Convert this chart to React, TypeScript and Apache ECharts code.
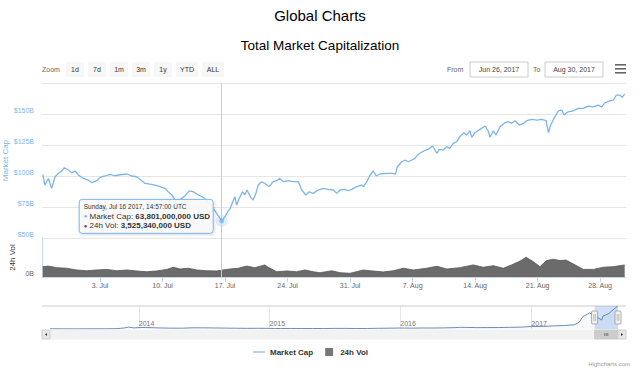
import React, { useEffect, useRef } from 'react';
import * as echarts from 'echarts';

const FONT = '"Liberation Sans", Arial, Helvetica, sans-serif';
const MONTHS = ['Jan', 'Feb', 'Mar', 'Apr', 'May', 'Jun', 'Jul', 'Aug', 'Sep', 'Oct', 'Nov', 'Dec'];
const DAYS = ['Sunday', 'Monday', 'Tuesday', 'Wednesday', 'Thursday', 'Friday', 'Saturday'];

// Market cap (billions USD), 2017, 'MM-DD HH[:mm]' UTC
const capTimes = [
  '06-26 14', '06-26 20', '06-27 05', '06-27 14', '06-27 23', '06-28 08', '06-28 17', '06-29 00', '06-29 11', '06-29 20',
  '06-30 05', '06-30 14', '07-01 03', '07-01 16', '07-02 02', '07-02 15', '07-03 00', '07-03 13', '07-04 03', '07-04 16',
  '07-05 06', '07-06 00', '07-06 13', '07-07 02', '07-07 16', '07-08 01', '07-08 14', '07-09 04', '07-09 17', '07-10 07',
  '07-10 15', '07-11 01', '07-11 10', '07-11 23', '07-12 12', '07-13 00', '07-13 11', '07-14 00', '07-14 14', '07-15 03',
  '07-15 16', '07-16 01', '07-16 14:57', '07-17 00', '07-17 10', '07-17 13', '07-18 02', '07-18 07', '07-18 16', '07-18 23',
  '07-19 05', '07-19 11', '07-19 21', '07-20 03', '07-20 11', '07-20 17', '07-21 02', '07-21 11', '07-21 23', '07-22 09',
  '07-22 19', '07-23 03', '07-23 12', '07-24 02', '07-24 15', '07-25 05', '07-25 14', '07-26 01', '07-26 10', '07-26 21',
  '07-27 10', '07-28 00', '07-28 13', '07-29 03', '07-29 12', '07-29 21', '07-30 10', '07-30 19', '07-31 04', '07-31 18',
  '08-01 07', '08-01 12', '08-01 21', '08-02 06', '08-02 14', '08-02 22', '08-03 08', '08-04 02', '08-04 16', '08-05 02',
  '08-05 07', '08-05 19', '08-06 04', '08-06 12', '08-06 22', '08-07 06', '08-07 15', '08-08 07', '08-08 18', '08-09 06',
  '08-09 12', '08-09 17', '08-10 00', '08-10 10', '08-10 20', '08-11 04', '08-11 13', '08-11 22', '08-12 07', '08-12 18',
  '08-13 01', '08-13 10', '08-13 15', '08-14 00', '08-14 13', '08-15 03', '08-15 12', '08-15 16', '08-16 01', '08-16 08',
  '08-16 19', '08-17 08', '08-17 17', '08-18 02', '08-18 11', '08-18 23', '08-19 10', '08-19 19', '08-20 08', '08-20 22',
  '08-21 11', '08-21 23', '08-22 05', '08-22 11', '08-22 20', '08-23 08', '08-23 17', '08-23 23', '08-24 10', '08-25 00',
  '08-25 13', '08-26 03', '08-26 16', '08-27 06', '08-27 19', '08-28 04', '08-28 13', '08-29 02', '08-29 11', '08-29 20',
  '08-30 05', '08-30 11', '08-30 18',
];
const capValues = [
  101.4, 92.7, 98, 90, 99.4, 102, 104, 106.7, 104.8, 102.6,
  104, 100.8, 98, 96.7, 94.6, 96.2, 98.9, 100, 101.4, 100.2,
  101, 101.6, 100, 99.4, 96.2, 94, 93.5, 92.7, 91.4, 90,
  87.3, 84.7, 80.6, 81, 83.9, 88, 87.3, 84.7, 82.8, 78.5,
  74, 70, 63.801, 67.2, 72.6, 73.1, 83.3, 76.6, 83.3, 87.3,
  84.7, 88.7, 82.8, 80.6, 86, 92.7, 95.4, 94, 91.4, 95.4,
  96.2, 98.1, 95.4, 96.2, 95.4, 95.4, 88.7, 84.7, 87.3, 86,
  88.7, 90, 89.2, 88.7, 86, 88.7, 89.2, 88.1, 89.2, 91.4,
  92.7, 91.4, 95.4, 100.8, 104.2, 100, 101.6, 102.1, 102.1, 101.6,
  107.5, 111.5, 112.9, 111.5, 112.9, 114.2, 117.5, 120.4, 121.5, 124.2,
  121, 118.3, 121.5, 121, 123.6, 122.3, 126.3, 127.6, 131.7, 134.9,
  133, 136.5, 131.2, 134.9, 137.6, 140.3, 135.7, 131.2, 136.5, 133,
  139.7, 143, 143.8, 142.5, 144.6, 141.1, 142.5, 144.6, 145.7, 145.1,
  145.7, 144.6, 134.9, 141.1, 146.5, 152.6, 153.2, 149.2, 151.8, 152.6,
  154.5, 154.5, 156.4, 155.8, 157.2, 155.8, 159, 160.6, 161.2, 165.3,
  165.3, 163.4, 166.1,
];

// 24h volume (billions USD)
const volTimes = [
  '06-26 14', '06-27 05', '06-28 03', '06-29 06', '06-30 09', '07-01 12', '07-02 15', '07-03 18', '07-04 21', '07-06 00',
  '07-07 02', '07-08 05', '07-09 08', '07-10 11', '07-11 05', '07-11 23', '07-12 21', '07-13 20', '07-14 23', '07-16 01',
  '07-16 14:57', '07-17 13', '07-18 12', '07-19 10', '07-20 08', '07-21 11', '07-21 20', '07-22 19', '07-23 22', '07-25 00',
  '07-25 23', '07-26 21', '07-27 15', '07-28 23', '07-29 21', '07-31 00', '08-01 12', '08-02 06', '08-03 17', '08-04 20',
  '08-05 23', '08-07 02', '08-08 14', '08-09 17', '08-10 20', '08-12 07', '08-13 19', '08-14 22', '08-16 01', '08-17 04',
  '08-18 02', '08-19 01', '08-19 17', '08-20 12', '08-21 06', '08-22 00', '08-22 18', '08-23 12', '08-24 04', '08-25 00',
  '08-26 03', '08-27 06', '08-28 09', '08-29 11', '08-30 18',
];
const volValues = [
  5.3, 5.6, 4.8, 4.5, 3.6, 3.2, 3.6, 3.9, 3.2, 3.6,
  3.1, 2.7, 3.1, 3.9, 5.0, 4.1, 4.5, 3.6, 3.2, 3.1,
  3.52534, 4.1, 4.5, 5.6, 4.8, 6.2, 5.0, 2.7, 3.1, 2.7,
  3.6, 2.7, 2.2, 3.2, 2.2, 1.9, 3.6, 3.2, 2.6, 3.2,
  4.5, 3.6, 4.5, 5.5, 4.1, 4.8, 6.2, 5.0, 5.8, 4.5,
  6.2, 8.2, 10.1, 7.9, 5.3, 8.4, 9.1, 8.4, 8.7, 6.7,
  3.9, 3.9, 5.0, 5.3, 6.2,
];

// Navigator: full history of market cap (billions USD)
const navTimes = [
  '2013-04-28', '2013-06-01', '2013-07-01', '2013-08-01', '2013-09-01', '2013-10-01', '2013-11-01', '2013-11-20', '2013-12-04', '2013-12-18',
  '2014-01-05', '2014-02-01', '2014-03-01', '2014-04-01', '2014-05-01', '2014-06-01', '2014-07-01', '2014-08-01', '2014-09-01', '2014-10-01',
  '2014-11-01', '2014-12-01', '2015-01-01', '2015-01-15', '2015-02-01', '2015-03-01', '2015-04-01', '2015-05-01', '2015-06-01', '2015-07-01',
  '2015-08-01', '2015-09-01', '2015-10-01', '2015-11-01', '2015-12-01', '2016-01-01', '2016-02-01', '2016-03-01', '2016-04-01', '2016-05-01',
  '2016-06-01', '2016-06-17', '2016-07-01', '2016-08-01', '2016-09-01', '2016-10-01', '2016-11-01', '2016-12-01', '2017-01-01', '2017-02-01',
  '2017-03-01', '2017-04-01', '2017-05-01', '2017-05-15', '2017-05-25', '2017-06-12', '2017-06-26', '2017-07-16', '2017-07-20', '2017-08-05',
  '2017-08-20', '2017-08-30',
];
const navValues = [
  1.6, 1.3, 1.0, 1.2, 1.6, 1.7, 2.6, 7.0, 14.0, 8.0,
  11.0, 10.0, 7.5, 6.0, 6.0, 8.5, 8.5, 7.5, 6.5, 5.5,
  4.8, 5.2, 4.5, 3.2, 3.5, 3.9, 3.7, 3.6, 3.6, 4.2,
  4.3, 3.6, 3.7, 5.3, 5.8, 7.0, 6.3, 7.4, 7.3, 8.0,
  10.0, 12.0, 11.5, 10.0, 10.3, 10.5, 12.0, 13.5, 17.7, 18.5,
  22.5, 25.0, 30.0, 50.0, 90.0, 115.0, 101.0, 64.0, 92.0, 112.0,
  145.0, 166.0,
];

const weekTicks = ['07-03', '07-10', '07-17', '07-24', '07-31', '08-07', '08-14', '08-21', '08-28'];
const yearTicks = ['2014-01-01', '2015-01-01', '2016-01-01', '2017-01-01'];
const capAxis = { min: 50, max: 175, interval: 25 };
const volAxis = { min: 0, max: 20, interval: 20 };
const rangeButtons = ['1d', '7d', '1m', '3m', '1y', 'YTD', 'ALL'];
const viewStart = '06-26 12';
const viewEnd = '08-30 21:30';
const navStart = '2013-04-28';
const hoverTime = '07-16 14:57';

function t17(s: string): number {
  const [md, hm = '00'] = s.split(' ');
  const [m, d] = md.split('-').map(Number);
  const [h, mi = 0] = hm.split(':').map(Number);
  return Date.UTC(2017, m - 1, d, h, mi);
}
function tIso(s: string): number {
  const [y, m, d] = s.split('-').map(Number);
  return Date.UTC(y, m - 1, d);
}
function fmtDate(ts: number): string {
  const d = new Date(ts);
  return `${MONTHS[d.getUTCMonth()]} ${d.getUTCDate()}, ${d.getUTCFullYear()}`;
}
const pad = (n: number) => (n < 10 ? '0' + n : '' + n);

const capData = capTimes.map((t, i) => [t17(t), capValues[i]]);
const volData = volTimes.map((t, i) => [t17(t), volValues[i]]);
const navData = navTimes.map((t, i) => [tIso(t), navValues[i]]);
const hoverTs = t17(hoverTime);
const hoverCap = capValues[capTimes.indexOf(hoverTime)];
const hoverVol = volValues[volTimes.indexOf(hoverTime)];
const startTs = t17(viewStart);
const endTs = t17(viewEnd);
const navStartTs = tIso(navStart);
const weekTs = weekTicks.map((s) => t17(s + ' 00'));
const yearTs = yearTicks.map(tIso);

function buildOption(): any {
  const crosshair = {
    symbol: 'none',
    silent: true,
    animation: false,
    label: { show: false },
    lineStyle: { color: '#cccccc', width: 1, type: 'solid' },
    data: [{ xAxis: hoverTs }],
  };
  return {
    animation: false,
    textStyle: { fontFamily: FONT },
    title: [
      { text: 'Global Charts', left: 'center', top: 3, textStyle: { fontSize: 15, fontWeight: 'normal', color: '#000', fontFamily: FONT } },
      { text: 'Total Market Capitalization', left: 'center', top: 33, textStyle: { fontSize: 13.5, fontWeight: 'normal', color: '#000', fontFamily: FONT } },
    ],
    legend: {
      left: 248,
      top: 343,
      itemWidth: 12,
      itemHeight: 8,
      itemGap: 12,
      textStyle: { fontSize: 8, fontWeight: 'bold', color: '#333', fontFamily: FONT },
      data: [
        { name: 'Market Cap', icon: 'path://M0,0 L20,0 L20,2 L0,2 Z' },
        { name: '24h Vol', icon: 'path://M0,0 L10,0 L10,10 L0,10 Z' },
      ],
    },
    grid: [
      { left: 42, right: 14, top: 83, height: 155, outerBoundsMode: 'none', containLabel: false },
      { left: 42, right: 14, top: 238, height: 39, outerBoundsMode: 'none', containLabel: false },
      { left: 50, right: 22, top: 306, height: 23, outerBoundsMode: 'none', containLabel: false },
    ],
    xAxis: [
      {
        type: 'value', gridIndex: 0, min: startTs, max: endTs,
        axisLine: { show: false }, axisTick: { show: false }, axisLabel: { show: false }, splitLine: { show: false },
      },
      {
        type: 'value', gridIndex: 1, min: startTs, max: endTs,
        axisLine: { show: true, lineStyle: { color: '#ccd6eb' } },
        axisTick: { show: true, customValues: weekTs, length: 5, lineStyle: { color: '#ccd6eb' } },
        axisLabel: {
          customValues: weekTs, color: '#666', fontSize: 7, margin: 5, fontFamily: FONT,
          formatter: (v: number) => { const d = new Date(v); return `${d.getUTCDate()}. ${MONTHS[d.getUTCMonth()]}`; },
        },
        splitLine: { show: false },
      },
      {
        type: 'value', gridIndex: 2, min: navStartTs, max: endTs,
        axisLine: { show: false },
        axisTick: { show: false, customValues: yearTs },
        axisLabel: {
          customValues: yearTs, inside: true, align: 'left', margin: 2, color: '#777', fontSize: 7, fontFamily: FONT,
          formatter: (v: number) => String(new Date(v).getUTCFullYear()),
        },
        splitLine: { show: true, lineStyle: { color: '#e6e6e6' } },
      },
    ],
    yAxis: [
      {
        type: 'value', gridIndex: 0, min: capAxis.min, max: capAxis.max, interval: capAxis.interval,
        name: 'Market Cap', nameLocation: 'middle', nameGap: 33, nameMoveOverlap: false,
        nameTextStyle: { color: '#7cb5ec', fontSize: 8, fontFamily: FONT },
        axisLine: { show: false }, axisTick: { show: false },
        axisLabel: {
          showMaxLabel: false, color: '#7cb5ec', fontSize: 7, margin: 8, verticalAlign: 'bottom', fontFamily: FONT,
          formatter: (v: number) => `$${v}B`,
        },
        splitLine: { lineStyle: { color: '#e6e6e6' } },
      },
      {
        type: 'value', gridIndex: 1, min: volAxis.min, max: volAxis.max, interval: volAxis.interval,
        name: '24h Vol', nameLocation: 'middle', nameGap: 26, nameMoveOverlap: false,
        nameTextStyle: { color: '#333', fontSize: 8, fontFamily: FONT },
        axisLine: { show: true, lineStyle: { color: '#ccd6eb' } }, axisTick: { show: false },
        axisLabel: {
          showMaxLabel: false, color: '#666', fontSize: 7, margin: 8, verticalAlign: 'bottom', fontFamily: FONT,
          formatter: (v: number) => `${v}B`,
        },
        splitLine: { show: false },
      },
      { type: 'value', gridIndex: 2, show: false, min: 0, max: 'dataMax' },
    ],
    series: [
      {
        name: 'Market Cap', type: 'line', xAxisIndex: 0, yAxisIndex: 0, data: capData,
        symbol: 'none', lineStyle: { color: '#7cb5ec', width: 1.3 }, itemStyle: { color: '#7cb5ec' },
        markLine: crosshair, z: 3,
      },
      {
        name: '24h Vol', type: 'line', xAxisIndex: 1, yAxisIndex: 1, data: volData,
        symbol: 'none', lineStyle: { color: '#555', width: 0.8 }, areaStyle: { color: '#6b6b6b', opacity: 1 },
        itemStyle: { color: '#777' }, markLine: crosshair,
      },
      {
        name: 'halo', type: 'scatter', xAxisIndex: 0, yAxisIndex: 0, data: [[hoverTs, hoverCap]],
        symbolSize: 12, itemStyle: { color: 'rgba(124,181,236,0.3)' }, silent: true, z: 4,
      },
      {
        name: 'point', type: 'scatter', xAxisIndex: 0, yAxisIndex: 0, data: [[hoverTs, hoverCap]],
        symbolSize: 5, itemStyle: { color: '#7cb5ec' }, silent: true, z: 5,
      },
      {
        name: 'navigator', type: 'line', xAxisIndex: 2, yAxisIndex: 2, data: navData,
        symbol: 'none', lineStyle: { color: '#4572a7', width: 0.8 }, areaStyle: { color: 'rgba(69,114,167,0.06)' },
        silent: true,
        markArea: {
          silent: true,
          itemStyle: { color: 'rgba(102,153,230,0.3)' },
          data: [[{ xAxis: startTs }, { xAxis: endTs }]],
        },
      },
    ],
  };
}

function buildGraphic(p: number[], navL: number, navR: number, selL: number, selR: number): any[] {
  const g: any[] = [];
  const txt = (x: number, y: number, text: string, size: number, fill: string, align = 'left', weight = 'normal') => ({
    type: 'text', x, y, silent: true,
    style: { text, fontSize: size, fill, fontFamily: FONT, textAlign: align, textVerticalAlign: 'middle', fontWeight: weight },
  });
  // range selector
  g.push(txt(42, 69.5, 'Zoom', 7, '#666'));
  let bx = 66;
  rangeButtons.forEach((b) => {
    const w = b.length > 2 ? 22 : 18;
    g.push({ type: 'rect', shape: { x: bx, y: 62, width: w, height: 15 }, style: { fill: '#f7f7f7' }, silent: true });
    g.push(txt(bx + w / 2, 69.5, b, 7, '#333', 'center'));
    bx += w + 4;
  });
  // date inputs
  g.push(txt(447, 69.5, 'From', 7, '#666'));
  g.push({ type: 'rect', shape: { x: 470, y: 62, width: 58, height: 15 }, style: { fill: '#fff', stroke: '#cccccc', lineWidth: 1 }, silent: true });
  g.push(txt(499, 69.5, fmtDate(startTs), 7, '#444', 'center'));
  g.push(txt(533, 69.5, 'To', 7, '#666'));
  g.push({ type: 'rect', shape: { x: 545, y: 62, width: 58, height: 15 }, style: { fill: '#fff', stroke: '#cccccc', lineWidth: 1 }, silent: true });
  g.push(txt(574, 69.5, fmtDate(endTs), 7, '#444', 'center'));
  [64, 68, 72].forEach((y) => g.push({ type: 'rect', shape: { x: 615, y, width: 11, height: 1.6 }, style: { fill: '#666' }, silent: true }));

  // tooltip
  const d = new Date(hoverTs);
  const head = `${DAYS[d.getUTCDay()]}, ${MONTHS[d.getUTCMonth()]} ${d.getUTCDate()} ${d.getUTCFullYear()}, ${pad(d.getUTCHours())}:${pad(d.getUTCMinutes())}:00 UTC`;
  const capStr = Math.round(hoverCap * 1e9).toLocaleString('en-US') + ' USD';
  const volStr = Math.round(hoverVol * 1e9).toLocaleString('en-US') + ' USD';
  const bxT = p[0] - 143;
  const byT = p[1] - 22;
  g.push({
    type: 'rect', z: 100, silent: true,
    shape: { x: bxT + 0.5, y: byT + 0.5, width: 134, height: 34, r: 3 },
    style: { fill: 'rgba(250,250,250,0.9)', stroke: '#7cb5ec', lineWidth: 1, shadowBlur: 3, shadowColor: 'rgba(0,0,0,0.15)', shadowOffsetX: 1, shadowOffsetY: 1 },
  });
  g.push({ ...txt(bxT + 5, byT + 8, head, 6.5, '#333'), z: 101 });
  g.push({
    type: 'text', x: bxT + 5, y: byT + 17.5, z: 101, silent: true,
    style: {
      text: '{dot|●} Market Cap: {b|' + capStr + '}', fontSize: 8, fill: '#333', fontFamily: FONT, textVerticalAlign: 'middle',
      rich: { dot: { fill: '#7cb5ec', fontSize: 6, fontFamily: FONT }, b: { fontWeight: 'bold', fontSize: 8, fill: '#333', fontFamily: FONT } },
    },
  });
  g.push({
    type: 'text', x: bxT + 5, y: byT + 27, z: 101, silent: true,
    style: {
      text: '{dot|●} 24h Vol: {b|' + volStr + '}', fontSize: 8, fill: '#333', fontFamily: FONT, textVerticalAlign: 'middle',
      rich: { dot: { fill: '#555', fontSize: 6, fontFamily: FONT }, b: { fontWeight: 'bold', fontSize: 8, fill: '#333', fontFamily: FONT } },
    },
  });

  // navigator outline + handles
  g.push({ type: 'line', silent: true, shape: { x1: navL - 8, y1: 306, x2: navR + 8, y2: 306 }, style: { stroke: '#cccccc', lineWidth: 1 } });
  [selL, selR].forEach((x) => {
    g.push({ type: 'rect', silent: true, z: 50, shape: { x: x - 3, y: 311, width: 6, height: 13, r: 1 }, style: { fill: '#f2f2f2', stroke: '#999', lineWidth: 0.8 } });
    g.push({ type: 'line', silent: true, z: 51, shape: { x1: x - 0.8, y1: 314, x2: x - 0.8, y2: 321 }, style: { stroke: '#999', lineWidth: 0.6 } });
    g.push({ type: 'line', silent: true, z: 51, shape: { x1: x + 0.8, y1: 314, x2: x + 0.8, y2: 321 }, style: { stroke: '#999', lineWidth: 0.6 } });
  });
  // scrollbar
  const sy = 330;
  const sh = 9;
  g.push({ type: 'rect', silent: true, shape: { x: navL - 8, y: sy, width: navR - navL + 16, height: sh }, style: { fill: '#f2f2f2', stroke: '#f2f2f2' } });
  g.push({ type: 'rect', silent: true, shape: { x: selL, y: sy, width: selR - selL, height: sh }, style: { fill: '#cccccc', stroke: '#cccccc' } });
  [-1.5, 0, 1.5].forEach((o) => g.push({ type: 'line', silent: true, shape: { x1: (selL + selR) / 2 + o, y1: sy + 3, x2: (selL + selR) / 2 + o, y2: sy + 6 }, style: { stroke: '#333', lineWidth: 0.5 } }));
  g.push({ type: 'rect', silent: true, shape: { x: navL - 8, y: sy, width: 8, height: sh }, style: { fill: '#e6e6e6', stroke: '#cccccc', lineWidth: 0.8 } });
  g.push({ type: 'rect', silent: true, shape: { x: navR, y: sy, width: 8, height: sh }, style: { fill: '#e6e6e6', stroke: '#cccccc', lineWidth: 0.8 } });
  g.push({ type: 'polygon', silent: true, shape: { points: [[navL - 5, sy + 4.5], [navL - 3, sy + 3], [navL - 3, sy + 6]] }, style: { fill: '#333' } });
  g.push({ type: 'polygon', silent: true, shape: { points: [[navR + 5, sy + 4.5], [navR + 3, sy + 3], [navR + 3, sy + 6]] }, style: { fill: '#333' } });

  // credit
  g.push(txt(630, 364, 'Highcharts.com', 6, '#999', 'right'));
  return g;
}

export default function App() {
  const ref = useRef<HTMLDivElement>(null);
  useEffect(() => {
    document.body.style.margin = '0';
    const chart = echarts.init(ref.current!, null, { renderer: 'svg' });
    chart.setOption(buildOption());
    const p = chart.convertToPixel({ xAxisIndex: 0, yAxisIndex: 0 }, [hoverTs, hoverCap]) as number[];
    const navL = chart.convertToPixel({ xAxisIndex: 2 }, navStartTs) as number;
    const navR = chart.convertToPixel({ xAxisIndex: 2 }, endTs) as number;
    const selL = chart.convertToPixel({ xAxisIndex: 2 }, startTs) as number;
    const selR = navR;
    chart.setOption({ graphic: buildGraphic(p, navL, navR, selL, selR) });
    return () => chart.dispose();
  }, []);
  return <div ref={ref} style={{ width: 640, height: 371 }} />;
}
